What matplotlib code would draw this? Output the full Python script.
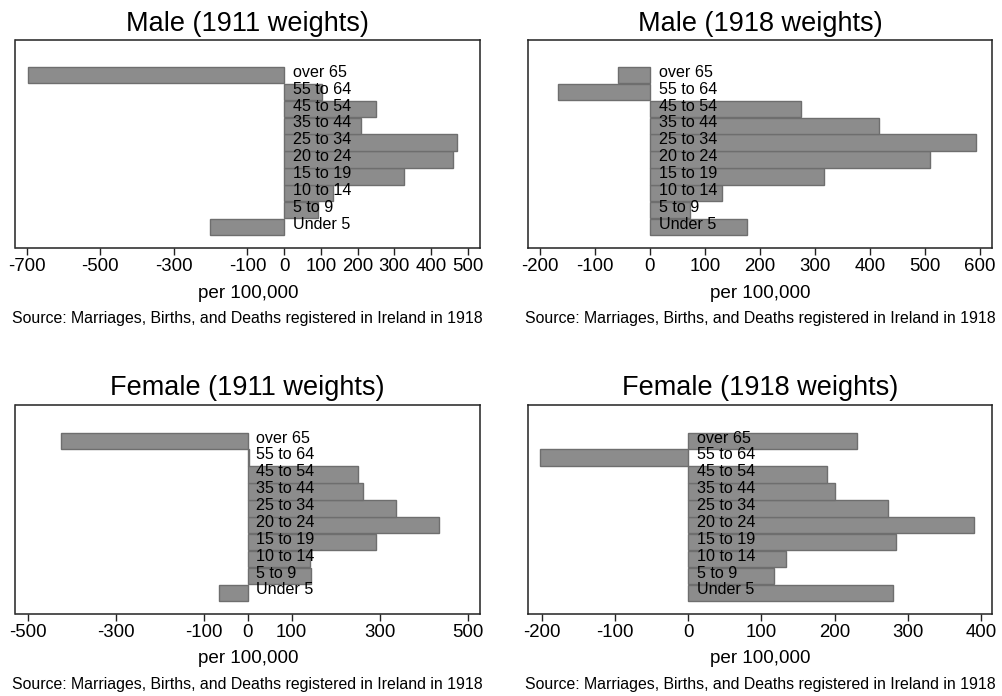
import matplotlib
matplotlib.use('Agg')
import matplotlib.pyplot as plt

plt.rcParams['font.family'] = ['Liberation Sans', 'DejaVu Sans']
plt.rcParams['axes.unicode_minus'] = False

ages = ['Under 5', '5 to 9', '10 to 14', '15 to 19', '20 to 24',
        '25 to 34', '35 to 44', '45 to 54', '55 to 64', 'over 65']

male_1911 = [-203, 91, 133, 327, 460, 471, 209, 249, 102, -698]
male_1918 = [176, 72, 131, 316, 508, 592, 417, 274, -167, -58]
female_1911 = [-65, 143, 142, 291, 434, 337, 261, 251, 3, -424]
female_1918 = [279, 117, 133, 283, 390, 273, 201, 189, -202, 231]

titles = ['Male (1911 weights)', 'Male (1918 weights)',
          'Female (1911 weights)', 'Female (1918 weights)']
xlims = [(-731, 533), (-222, 622), (-528, 528), (-219, 415)]
xticks = [[-700, -500, -300, -100, 0, 100, 200, 300, 400, 500],
          [-200, -100, 0, 100, 200, 300, 400, 500, 600],
          [-500, -300, -100, 0, 100, 300, 500],
          [-200, -100, 0, 100, 200, 300, 400]]
source = 'Source: Marriages, Births, and Deaths registered in Ireland in 1918'

W, H = 1003, 696
fig = plt.figure(figsize=(W / 100, H / 100), dpi=100)

# axes boxes in pixels: left, right, top, bottom
boxes = [(15.5, 480, 40.5, 248.3), (527.7, 992.3, 40.5, 248.3),
         (15.5, 480, 404.5, 614), (527.7, 992.3, 404.5, 614)]
source_y = [318.7, 318.7, 684, 684]
series = [male_1911, male_1918, female_1911, female_1918]

for i in range(4):
    l, r, t, b = boxes[i]
    ax = fig.add_axes([l / W, 1 - b / H, (r - l) / W, (b - t) / H])
    pos = list(range(1, len(ages) + 1))
    ax.barh(pos, series[i], height=0.97, color='#8c8c8c',
            edgecolor='#6e6e6e', linewidth=1.0)
    for p, lab in zip(pos, ages):
        ax.annotate(lab, xy=(0, p), xytext=(6.2, 2.0), textcoords='offset points',
                    ha='left', va='center', fontsize=11.6, color='black')
    ax.set_xlim(*xlims[i])
    ax.set_ylim(1 - 1.26, 10 + 2.15 - (0.1 if i < 2 else 0))
    ax.set_xticks(xticks[i])
    ax.set_xticklabels([str(v) for v in xticks[i]])
    ax.set_yticks([])
    ax.tick_params(axis='x', labelsize=13.4, length=5, width=1.0, pad=2,
                   color='#222222')
    for s in ax.spines.values():
        s.set_color('#222222')
        s.set_linewidth(1.1)
    ax.set_title(titles[i], fontsize=19.5, pad=7)
    ax.set_xlabel('per 100,000', fontsize=13.6, labelpad=7)
    fig.text((l + r) / 2 / W, 1 - source_y[i] / H, source, ha='center',
             va='center', fontsize=11.4)

fig.savefig('out.png', dpi=100)
